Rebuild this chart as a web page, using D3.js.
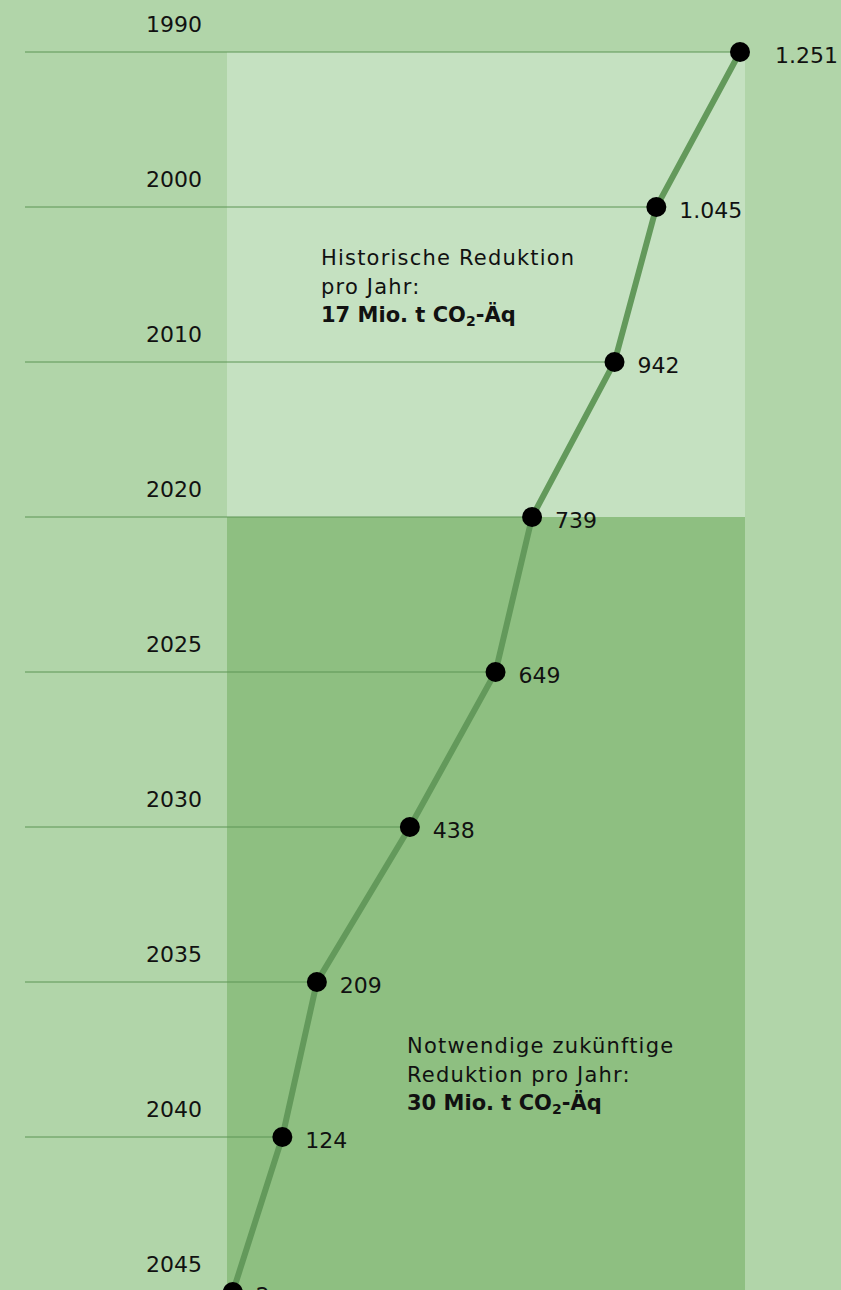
<!DOCTYPE html>
<html>
<head>
<meta charset="utf-8">
<script src="https://cdn.jsdelivr.net/npm/d3@7"></script>
<style>
  body { margin: 0; background: #b1d5a9; }
  text { font-family: "DejaVu Sans", sans-serif; fill: #111; }
</style>
</head>
<body>
<div class="chart"></div>
<script>
const width = 841, height = 1290

// data
const years = ['1990', '2000', '2010', '2020', '2025', '2030', '2035', '2040', '2045']
const values = [1251, 1045, 942, 739, 649, 438, 209, 124, 2]
const valueLabels = ['1.251', '1.045', '942', '739', '649', '438', '209', '124', '2']
const historicNote = ['Historische Reduktion', 'pro Jahr:', '17 Mio. t CO', '2', '-Äq']
const futureNote = ['Notwendige zukünftige', 'Reduktion pro Jahr:', '30 Mio. t CO', '2', '-Äq']

const data = years.map((y, i) => ({ year: y, value: values[i], label: valueLabels[i] }))

const svg = d3.select('.chart').append('svg')
    .attr('width', width)
    .attr('height', height)

const y = d3.scalePoint()
    .domain(years)
    .range([52, 1292])

const x = d3.scaleLinear()
    .domain([0, 1251])
    .range([232, 740])

// background panels
svg.append('rect')
    .attr('width', width).attr('height', height)
    .attr('fill', '#b1d5a9')

svg.append('rect')
    .attr('x', 227).attr('width', 745 - 227)
    .attr('y', y('1990')).attr('height', y('2020') - y('1990'))
    .attr('fill', '#c5e1c1')

svg.append('rect')
    .attr('x', 227).attr('width', 745 - 227)
    .attr('y', y('2020')).attr('height', height - y('2020'))
    .attr('fill', '#8ebf81')

// horizontal year rules
svg.append('g').selectAll('line')
    .data(data)
    .enter().append('line')
    .attr('x1', 25)
    .attr('x2', d => x(d.value))
    .attr('y1', d => y(d.year))
    .attr('y2', d => y(d.year))
    .attr('stroke', '#5c9555')
    .attr('stroke-width', 1)

svg.append('g').selectAll('text')
    .data(data)
    .enter().append('text')
    .attr('x', 202)
    .attr('y', d => y(d.year) - 20)
    .attr('text-anchor', 'end')
    .style('font-size', '22px')
    .text(d => d.year)

// the line
const line = d3.line()
    .x(d => x(d.value))
    .y(d => y(d.year))

svg.append('path')
    .datum(data)
    .attr('d', line)
    .attr('fill', 'none')
    .attr('stroke', '#63995b')
    .attr('stroke-width', 6)

svg.append('g').selectAll('circle')
    .data(data)
    .enter().append('circle')
    .attr('cx', d => x(d.value))
    .attr('cy', d => y(d.year))
    .attr('r', 10)
    .attr('fill', '#000')

svg.append('g').selectAll('text')
    .data(data)
    .enter().append('text')
    .attr('x', d => x(d.value) + (d.year === '1990' ? 35 : 23))
    .attr('y', d => y(d.year) + 11)
    .style('font-size', '22px')
    .text(d => d.label)

// annotations
function note(lines, tx, ty) {
    const g = svg.append('g').attr('transform', 'translate(' + tx + ',' + ty + ')')
    g.append('text').attr('y', 0).style('font-size', '21px').style('letter-spacing', '1.2px').text(lines[0])
    g.append('text').attr('y', 28.5).style('font-size', '21px').style('letter-spacing', '1.2px').text(lines[1])
    const b = g.append('text').attr('y', 57).style('font-size', '21px')
        .style('font-weight', 'bold')
    b.append('tspan').text(lines[2])
    b.append('tspan').attr('dy', 4).style('font-size', '14px').text(lines[3])
    b.append('tspan').attr('dy', -4).text(lines[4])
}
note(historicNote, 321, 265)
note(futureNote, 407, 1053)
</script>
</body>
</html>
